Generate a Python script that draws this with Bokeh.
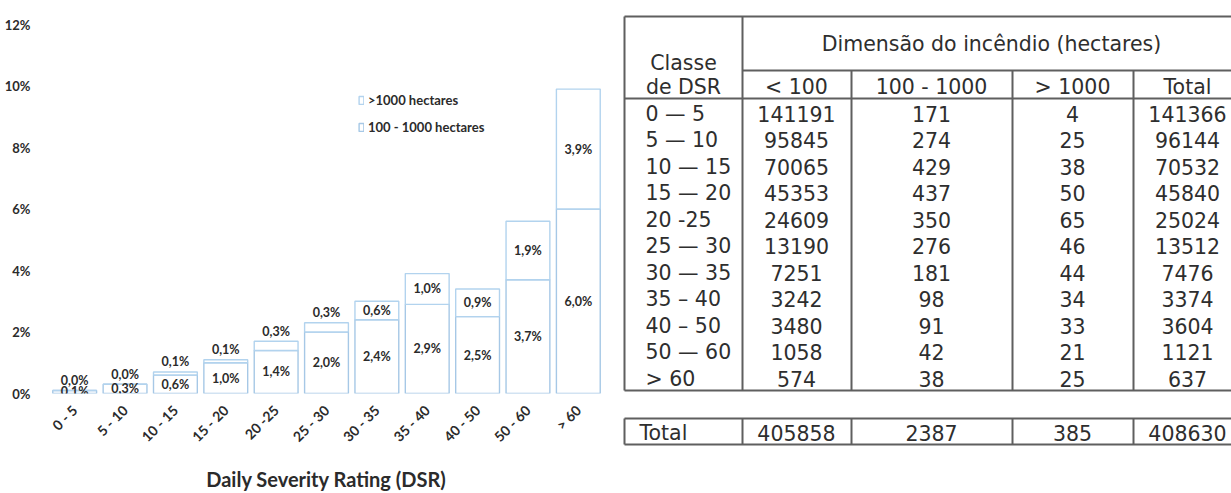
import math

from bokeh.core.properties import value
from bokeh.embed import file_html
from bokeh.layouts import row
from bokeh.models import ColumnDataSource, FactorRange, FixedTicker, Legend, LegendItem, Range1d
from bokeh.plotting import figure
from bokeh.resources import INLINE

# --- chart data: share of fires per DSR class (%) ---------------------------
dsr_classes = ["0 - 5", "5 - 10", "10 - 15", "15 - 20", "20 -25", "25 - 30",
               "30 - 35", "35 - 40", "40 - 50", "50 - 60", "> 60"]
pct_100_1000 = [0.1, 0.3, 0.6, 1.0, 1.4, 2.0, 2.4, 2.9, 2.5, 3.7, 6.0]
pct_over_1000 = [0.0, 0.0, 0.1, 0.1, 0.3, 0.3, 0.6, 1.0, 0.9, 1.9, 3.9]
y_ticks = [0, 2, 4, 6, 8, 10, 12]
y_tick_labels = ["0%", "2%", "4%", "6%", "8%", "10%", "12%"]
series_names = ["100 - 1000 hectares", ">1000 hectares"]

# --- table data: number of fires per DSR class and fire size ----------------
table_classes = ["0 \u2014 5", "5 \u2014 10", "10 \u2014 15", "15 \u2014 20", "20 -25",
                 "25 \u2014 30", "30 \u2014 35", "35 \u2013 40", "40 \u2013 50",
                 "50 \u2014 60", "> 60"]
size_classes = ["< 100", "100 - 1000", "> 1000", "Total"]
fires_lt100 = [141191, 95845, 70065, 45353, 24609, 13190, 7251, 3242, 3480, 1058, 574]
fires_100_1000 = [171, 274, 429, 437, 350, 276, 181, 98, 91, 42, 38]
fires_gt1000 = [4, 25, 38, 50, 65, 46, 44, 34, 33, 21, 25]
fires_total = [141366, 96144, 70532, 45840, 25024, 13512, 7476, 3374, 3604, 1121, 637]
grand_totals = [405858, 2387, 385, 408630]


def pct_label(v):
    return f"{v:.1f}%".replace(".", ",")


# --- stacked bar chart ------------------------------------------------------
LABEL_FONT = "Lato"
TEXT_COLOR = "#2b2b2b"

bottom_mid = [b / 2 for b in pct_100_1000]
top_y, top_off = [], []
for b, t in zip(pct_100_1000, pct_over_1000):
    if t >= 0.5:
        top_y.append(b + t / 2)
        top_off.append(0)
    else:
        top_y.append(b + t)
        top_off.append(-10)

src = ColumnDataSource(dict(
    cat=dsr_classes,
    low=pct_100_1000,
    high=pct_over_1000,
    low_y=bottom_mid,
    low_txt=[pct_label(v) for v in pct_100_1000],
    high_y=top_y,
    high_off=top_off,
    high_txt=[pct_label(v) for v in pct_over_1000],
))

p = figure(width=615, height=493, x_range=FactorRange(factors=dsr_classes),
           y_range=Range1d(0, 12), toolbar_location=None, output_backend="svg",
           min_border_left=49, min_border_right=12, min_border_top=24,
           min_border_bottom=100, frame_align=False)
p.outline_line_color = None
p.grid.visible = False

bars = p.vbar_stack(["low", "high"], x="cat", width=0.87, source=src,
                    fill_color="white", line_color=["#a6c8e6", "#b2d3ee"],
                    line_width=1.4)

p.text(x="cat", y="low_y", text="low_txt", source=src,
       text_font=value(LABEL_FONT), text_font_style="bold",
       text_font_size="12.5px", text_color=TEXT_COLOR,
       text_align="center", text_baseline="middle")
p.text(x="cat", y="high_y", text="high_txt", y_offset="high_off", source=src,
       text_font=value(LABEL_FONT), text_font_style="bold",
       text_font_size="12.5px", text_color=TEXT_COLOR,
       text_align="center", text_baseline="middle")

p.yaxis.ticker = FixedTicker(ticks=y_ticks)
p.yaxis.major_label_overrides = {t: lab for t, lab in zip(y_ticks, y_tick_labels)}
for ax in (p.xaxis, p.yaxis):
    ax.axis_line_color = None
    ax.major_tick_line_color = None
    ax.minor_tick_line_color = None
    ax.major_label_text_font = LABEL_FONT
    ax.major_label_text_font_style = "bold"
    ax.major_label_text_color = TEXT_COLOR
p.yaxis.major_label_text_font_size = "13px"
p.xaxis.major_label_text_font_size = "14px"
p.yaxis.major_label_standoff = 13
p.xaxis.major_label_standoff = 8
p.xaxis.major_label_orientation = math.pi / 4
p.xaxis.axis_label = "Daily Severity Rating (DSR)"
p.xaxis.axis_label_text_font = LABEL_FONT
p.xaxis.axis_label_text_font_style = "bold"
p.xaxis.axis_label_text_font_size = "20px"
p.xaxis.axis_label_text_color = TEXT_COLOR
p.xaxis.axis_label_standoff = 13

legend = Legend(
    items=[LegendItem(label=series_names[1], renderers=[bars[1]]),
           LegendItem(label=series_names[0], renderers=[bars[0]])],
    location=(309, 254), orientation="vertical",
    glyph_width=6, glyph_height=10, label_standoff=4, label_height=24,
    spacing=3, padding=0, margin=0,
    border_line_color=None, background_fill_alpha=0,
    label_text_font=LABEL_FONT, label_text_font_style="bold",
    label_text_font_size="13px", label_text_color=TEXT_COLOR,
)
p.add_layout(legend)

# --- data table -------------------------------------------------------------
TABLE_FONT = "DejaVu Sans"
TABLE_SIZE = "20.5px"
TABLE_COLOR = "#2e2e2e"
GRID_COLOR = "#5f5f5f"

t = figure(width=616, height=493, x_range=Range1d(615, 1231), y_range=Range1d(493, 0),
           toolbar_location=None, output_backend="svg", min_border=0,
           x_axis_location=None, y_axis_location=None, frame_align=False)
t.outline_line_color = None
t.grid.visible = False

left_edge, class_sep, right_edge = 624, 742, 1231
col_seps = [851, 1012, 1133]
col_centers = [796, 931, 1072, 1187]
class_center, class_text_x, header_center = 683, 645, 991
top_line, sub_line, head_line, body_bottom = 16, 70, 98, 390
total_top, total_bottom = 418, 444
row0, row_h = 113, 26.5

hx0 = [left_edge, class_sep, left_edge, left_edge, left_edge, left_edge]
hx1 = [right_edge] * 6
hy = [top_line, sub_line, head_line, body_bottom, total_top, total_bottom]
t.segment(x0=hx0, y0=hy, x1=hx1, y1=hy, line_color=GRID_COLOR, line_width=2)

vx = [left_edge, class_sep] + col_seps
t.segment(x0=vx, y0=[top_line, top_line] + [sub_line] * 3, x1=vx,
          y1=[body_bottom] * 5, line_color=GRID_COLOR, line_width=2)
t.segment(x0=vx, y0=[total_top] * 5, x1=vx, y1=[total_bottom] * 5,
          line_color=GRID_COLOR, line_width=2)

text_kw = dict(text_font=value(TABLE_FONT), text_font_size=TABLE_SIZE,
               text_color=TABLE_COLOR, text_baseline="middle")

# header
t.text(x=[class_center, class_center], y=[62, 86], text=["Classe", "de DSR"],
       text_align="center", **text_kw)
t.text(x=[header_center], y=[43], text=["Dimens\u00e3o do inc\u00eandio (hectares)"],
       text_align="center", **text_kw)
t.text(x=col_centers, y=[86] * 4, text=size_classes, text_align="center", **text_kw)

# body
row_y = [row0 + i * row_h for i in range(len(table_classes))]
t.text(x=[class_text_x] * len(table_classes), y=row_y, text=table_classes,
       text_align="left", **text_kw)
for cx, col in zip(col_centers, [fires_lt100, fires_100_1000, fires_gt1000, fires_total]):
    t.text(x=[cx] * len(col), y=row_y, text=[str(v) for v in col],
           text_align="center", **text_kw)

# totals row
t.text(x=[639], y=[432], text=["Total"], text_align="left", **text_kw)
t.text(x=col_centers, y=[432] * 4, text=[str(v) for v in grand_totals],
       text_align="center", **text_kw)

layout = row(p, t)
open("out.html", "w").write(file_html(layout, INLINE))
